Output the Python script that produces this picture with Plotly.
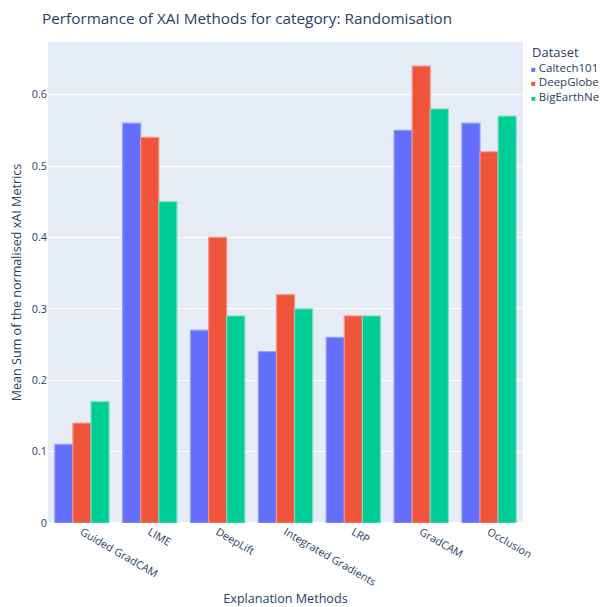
import plotly.graph_objects as go

methods = ["Guided GradCAM", "LIME", "DeepLift", "Integrated Gradients", "LRP", "GradCAM", "Occlusion"]
caltech101 = [0.11, 0.56, 0.27, 0.24, 0.26, 0.55, 0.56]
deepglobe = [0.14, 0.54, 0.40, 0.32, 0.29, 0.64, 0.52]
bigearthnet = [0.17, 0.45, 0.29, 0.30, 0.29, 0.58, 0.57]
dataset_names = ["Caltech101", "DeepGlobe", "BigEarthNet"]
colors = ["#636efa", "#EF553B", "#00cc96"]
line_colors = ["rgba(150,156,252,0.9)", "rgba(245,150,135,0.9)", "rgba(120,225,195,0.9)"]

fig = go.Figure()
for name, vals, col, lcol in zip(dataset_names, [caltech101, deepglobe, bigearthnet], colors, line_colors):
    fig.add_trace(go.Bar(x=methods, y=vals, name=name,
                         marker=dict(color=col, line=dict(color=lcol, width=1.2))))

# compact legend drawn as text
annotations = [dict(text="Dataset", xref="paper", yref="paper", x=1.016, y=0.98,
                    xanchor="left", yanchor="middle", showarrow=False, borderpad=0,
                    font=dict(size=13, color="#2a3f5f"))]
for i, (name, col) in enumerate(zip(dataset_names, colors)):
    annotations.append(dict(
        text=f"<span style='color:{col};font-size:8px'>■</span> {name}",
        xref="paper", yref="paper", x=1.0147, y=0.948 - i * 0.031,
        xanchor="left", yanchor="middle", showarrow=False, borderpad=0,
        font=dict(size=11.5, color="#2a3f5f")))

fig.update_layout(
    width=607, height=607,
    barmode="group",
    showlegend=False,
    title=dict(text="Performance of XAI Methods for category: Randomisation",
               x=0.056, xanchor="left", y=0.982, yanchor="middle", font=dict(size=15.3)),
    xaxis=dict(title=dict(text="Explanation Methods", font=dict(size=12.6), standoff=6),
               tickangle=30, tickfont=dict(size=10.8), automargin=True),
    yaxis=dict(title=dict(text="Mean Sum of the normalised xAI Metrics", font=dict(size=12.6)),
               tickfont=dict(size=10.8), automargin=False),
    annotations=annotations,
    margin=dict(l=40, r=92, t=34, b=92),
)
fig.write_html("out.html")
